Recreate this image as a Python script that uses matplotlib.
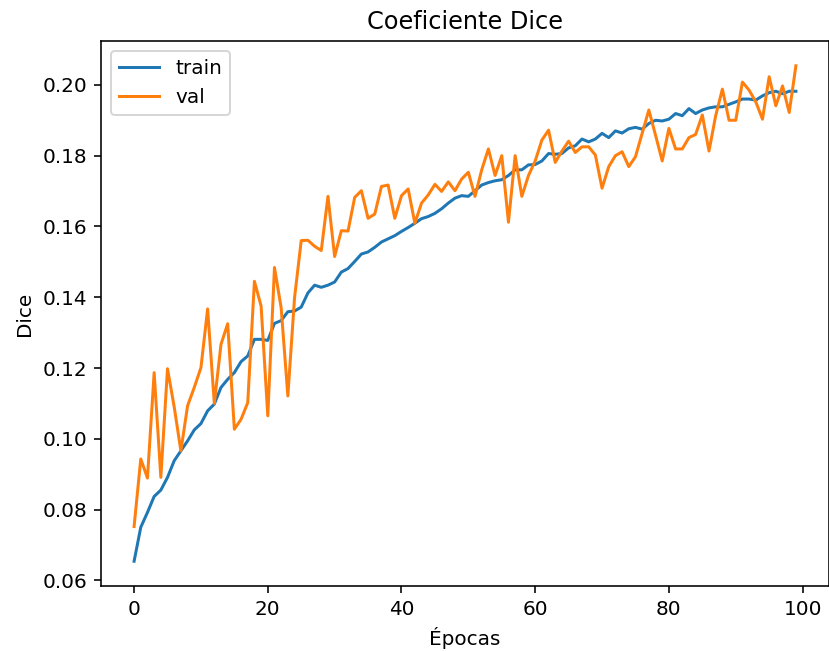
import matplotlib
matplotlib.use("Agg")
import matplotlib.pyplot as plt

# Dice por época
train_dice = [
    0.0654, 0.0750, 0.0792, 0.0837, 0.0855, 0.0891, 0.0938, 0.0966, 0.0994, 0.1025,
    0.1043, 0.1079, 0.1098, 0.1145, 0.1168, 0.1187, 0.1218, 0.1234, 0.1281, 0.1281,
    0.1278, 0.1326, 0.1334, 0.1359, 0.1361, 0.1372, 0.1412, 0.1434, 0.1428, 0.1434,
    0.1443, 0.1471, 0.1481, 0.1501, 0.1522, 0.1528, 0.1541, 0.1556, 0.1565, 0.1574,
    0.1586, 0.1597, 0.1609, 0.1622, 0.1628, 0.1637, 0.1650, 0.1666, 0.1680, 0.1687,
    0.1685, 0.1701, 0.1717, 0.1724, 0.1729, 0.1732, 0.1744, 0.1760, 0.1760, 0.1774,
    0.1775, 0.1785, 0.1806, 0.1804, 0.1806, 0.1822, 0.1828, 0.1847, 0.1839, 0.1847,
    0.1863, 0.1851, 0.1870, 0.1864, 0.1876, 0.1880, 0.1875, 0.1891, 0.1900, 0.1898,
    0.1903, 0.1919, 0.1913, 0.1933, 0.1919, 0.1929, 0.1935, 0.1938, 0.1938, 0.1945,
    0.1952, 0.1960, 0.1960, 0.1957, 0.1969, 0.1978, 0.1982, 0.1975, 0.1982, 0.1982,
]
val_dice = [
    0.0752, 0.0943, 0.0889, 0.1187, 0.0891, 0.1198, 0.1090, 0.0966, 0.1093, 0.1145,
    0.1201, 0.1367, 0.1100, 0.1267, 0.1325, 0.1027, 0.1055, 0.1102, 0.1445, 0.1375,
    0.1065, 0.1484, 0.1370, 0.1121, 0.1398, 0.1560, 0.1561, 0.1544, 0.1532, 0.1685,
    0.1515, 0.1588, 0.1587, 0.1682, 0.1701, 0.1623, 0.1635, 0.1713, 0.1717, 0.1623,
    0.1687, 0.1706, 0.1609, 0.1666, 0.1689, 0.1719, 0.1699, 0.1726, 0.1701, 0.1734,
    0.1753, 0.1685, 0.1760, 0.1819, 0.1744, 0.1800, 0.1612, 0.1800, 0.1685, 0.1744,
    0.1785, 0.1844, 0.1872, 0.1781, 0.1813, 0.1841, 0.1809, 0.1825, 0.1825, 0.1802,
    0.1708, 0.1769, 0.1800, 0.1811, 0.1769, 0.1797, 0.1863, 0.1929, 0.1858, 0.1785,
    0.1877, 0.1819, 0.1819, 0.1851, 0.1860, 0.1915, 0.1813, 0.1913, 0.1988, 0.1900,
    0.1900, 0.2008, 0.1985, 0.1952, 0.1903, 0.2023, 0.1941, 0.1997, 0.1922, 0.2054,
]
epocas = list(range(len(train_dice)))

DPI = 144
fig = plt.figure(figsize=(829 / DPI, 651 / DPI), dpi=DPI)
ax = fig.add_axes([101 / 829, 65 / 651, 728 / 829, 545 / 651])

ax.plot(epocas, train_dice, label="train")
ax.plot(epocas, val_dice, label="val")
ax.set_title("Coeficiente Dice")
ax.set_xlabel("Épocas")
ax.set_ylabel("Dice")
ax.legend(loc="upper left")

fig.savefig("out.png", dpi=DPI)
